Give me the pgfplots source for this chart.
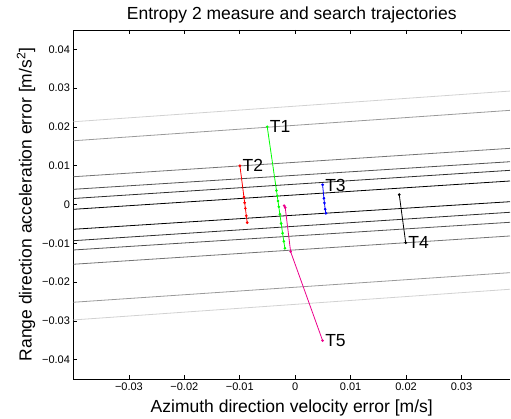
\documentclass[border=0pt]{standalone}
\usepackage{fontspec}
\setmainfont{Liberation Sans}
\usepackage{pgfplots}
\pgfplotsset{compat=1.18}

\definecolor{g1}{gray}{0.82}
\definecolor{g2}{gray}{0.6}
\definecolor{g3}{gray}{0.45}
\definecolor{g4}{gray}{0.32}
\definecolor{g5}{gray}{0.18}
\definecolor{g6}{gray}{0.0}

\begin{document}
\begin{tikzpicture}
\begin{axis}[
    scale only axis,
    width=436.5bp, height=349bp,
    xmin=-0.04, xmax=0.03875,
    ymin=-0.045, ymax=0.045,
    scaled ticks=false,
    axis x line*=box, axis y line*=left,
    axis line style={-, line width=0.7bp},
    tick align=inside,
    major tick length=4bp,
    every tick/.style={black, line width=0.6bp},
    xtick={-0.03,-0.02,-0.01,0,0.01,0.02,0.03},
    xticklabels={−0.03,−0.02,−0.01,0,0.01,0.02,0.03},
    ytick={-0.04,-0.03,-0.02,-0.01,0,0.01,0.02,0.03,0.04},
    yticklabels={−0.04,−0.03,−0.02,−0.01,0,0.01,0.02,0.03,0.04},
    tick label style={font=\fontsize{11bp}{13bp}\selectfont},
    title={Entropy 2 measure and search trajectories},
    title style={font=\fontsize{17.5bp}{20bp}\selectfont, at={(axis description cs:0.5,1.013)}, anchor=base, inner sep=0pt},
    xlabel={Azimuth direction velocity error [m/s]},
    xlabel style={font=\fontsize{17.5bp}{20bp}\selectfont, at={(axis description cs:0.5,-0.0974)}, anchor=base, inner sep=0pt},
    ylabel={Range direction acceleration error [m/s\textsuperscript{2}]},
    ylabel style={font=\fontsize{17.5bp}{20bp}\selectfont, at={(axis description cs:-0.0962,0.5)}, rotate=0, anchor=base, inner sep=0pt},
    clip=true,
]
% contour lines of the entropy measure
\addplot[g1, line width=0.8bp] coordinates {(-0.04,0.02134) (0.03875,0.02925)};
\addplot[g2, line width=0.8bp] coordinates {(-0.04,0.01644) (0.03875,0.02428)};
\addplot[g3, line width=0.8bp] coordinates {(-0.04,0.00716) (0.03875,0.01448)};
\addplot[g4, line width=0.8bp] coordinates {(-0.04,0.00392) (0.03875,0.01103)};
\addplot[g5, line width=0.8bp] coordinates {(-0.04,0.00155) (0.03875,0.00881)};
\addplot[g6, line width=0.8bp] coordinates {(-0.04,-0.00124) (0.03875,0.00606)};
\addplot[g6, line width=0.8bp] coordinates {(-0.04,-0.00639) (0.006,-0.0022) (0.03875,0.00072)};
\addplot[g5, line width=0.8bp] coordinates {(-0.04,-0.00933) (0.03875,-0.00201)};
\addplot[g4, line width=0.8bp] coordinates {(-0.04,-0.01173) (0.03875,-0.00459)};
\addplot[g3, line width=0.8bp] coordinates {(-0.04,-0.01541) (0.03875,-0.00812)};
\addplot[g2, line width=0.8bp] coordinates {(-0.04,-0.02521) (0.03875,-0.01758)};
\addplot[g1, line width=0.8bp] coordinates {(-0.04,-0.02977) (0.03875,-0.02186)};

% search trajectories
\addplot[green, line width=0.8bp, mark=*, mark size=0.9bp] coordinates {
  (-0.00505,0.02005) (-0.00338,0.0036) (-0.00324,0.0022) (-0.00311,0.0009)
  (-0.00296,-0.0006) (-0.00277,-0.0025) (-0.00253,-0.0049) (-0.00228,-0.0074)
  (-0.00206,-0.0095) (-0.00186,-0.0113)};
\addplot[red, line width=0.8bp, mark=*, mark size=0.9bp] coordinates {
  (-0.00998,0.01) (-0.00925,0.00192) (-0.00912,0.00045) (-0.00899,-0.001)
  (-0.00882,-0.00293) (-0.00866,-0.00469)};
\addplot[blue, line width=0.8bp, mark=*, mark size=0.9bp] coordinates {
  (0.00494,0.0051) (0.00518,0.0016) (0.00527,0.0004) (0.0054,-0.0012) (0.00554,-0.00227)};
\addplot[black, line width=0.8bp, mark=*, mark size=0.9bp] coordinates {
  (0.01877,0.00253) (0.01993,-0.00985)};
\addplot[magenta, line width=0.8bp, mark=*, mark size=0.9bp] coordinates {
  (-0.00199,-0.00031) (-0.0018,-0.0008) (-0.00083,-0.01216) (0.00494,-0.0351)};

\begin{scope}[every node/.style={font=\fontsize{17.5bp}{20bp}\selectfont, anchor=west, inner sep=0pt, xshift=2.5bp}]
\node at (axis cs:-0.00505,0.02005) {T1};
\node at (axis cs:-0.00998,0.01) {T2};
\node at (axis cs:0.00494,0.0049) {T3};
\node at (axis cs:0.01993,-0.00985) {T4};
\node at (axis cs:0.00494,-0.0351) {T5};
\end{scope}
\end{axis}
\pgfresetboundingbox
\path (current axis.south west) ++(-73.5bp,-40bp) coordinate (bbsw);
\path (current axis.north east) ++(1bp,30bp) coordinate (bbne);
\useasboundingbox (bbsw) rectangle (bbne);
\end{tikzpicture}
\end{document}
